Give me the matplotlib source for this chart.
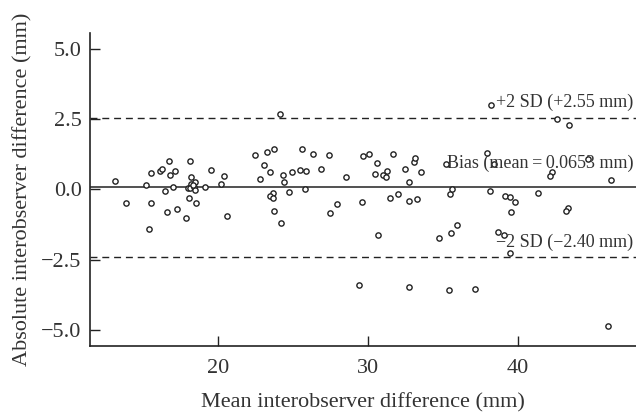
import matplotlib
matplotlib.use("Agg")
import matplotlib.pyplot as plt
import numpy as np

# mean of the two observers (mm) and their difference (mm)
mean_mm = [24.13, 13.13, 13.90, 15.18, 15.42, 15.56, 15.53, 16.13, 16.27, 16.45,
           16.58, 16.75, 16.80, 17.02, 17.15, 17.25, 17.89, 17.98, 18.09, 18.13,
           18.22, 18.18, 18.16, 18.42, 18.49, 18.49, 18.51, 18.31, 19.15, 19.53,
           20.18, 20.40, 20.62, 22.47, 22.78, 23.05, 23.29, 23.47, 23.71, 23.65,
           23.47, 23.65, 23.71, 24.18, 24.31, 24.38, 24.71,
           24.95, 25.45, 25.60, 25.85, 25.78, 26.33, 26.89, 27.40, 27.49, 27.93,
           28.55, 29.58, 29.69, 30.09, 30.60, 30.47, 30.69, 31.02, 31.25, 31.20,
           31.47, 31.69, 32.02, 32.45, 32.75, 32.75, 33.09, 33.13, 33.25, 33.55,
           34.75, 35.18, 35.47, 35.60, 35.51, 35.93,
           38.18, 42.62, 43.38, 37.91, 38.40, 44.65, 42.27, 42.13, 46.20, 38.11,
           39.11, 39.45, 39.82, 39.55, 41.31, 43.33, 43.18, 38.69, 39.05, 39.45,
           29.42, 32.71, 35.40, 37.15, 46.00]
diff_mm = [2.68, 0.30, -0.48, 0.16, -1.41, 0.59, -0.50, 0.65, 0.71, -0.08,
           -0.82, 1.02, 0.50, 0.07, 0.65, -0.69, -1.01, 0.05, -0.31, 1.02,
           0.44, 0.19, 0.04, 0.07, 0.26, -0.04, -0.50, 0.16, 0.08, 0.70,
           0.18, 0.48, -0.94, 1.21, 0.37, 0.85, 1.34, 0.63, 1.42, -0.14,
           -0.24, -0.30, -0.77, -1.20, 0.51, 0.25, -0.10,
           0.60, 0.68, 1.43, 0.64, 0.02, 1.26, 0.73, 1.21, -0.85, -0.52,
           0.44, -0.45, 1.19, 1.26, 0.95, 0.53, -1.62, 0.52, 0.66, 0.44,
           -0.30, 1.26, -0.18, 0.71, 0.25, -0.41, 0.98, 1.10, -0.33, 0.60,
           -1.72, 0.90, -0.17, 0.02, -1.54, -1.27,
           2.99, 2.50, 2.28, 1.28, 0.90, 1.08, 0.62, 0.46, 0.32, -0.06,
           -0.24, -0.28, -0.45, -0.82, -0.12, -0.65, -0.77, -1.51, -1.63, -2.28,
           -3.41, -3.47, -3.58, -3.56, -4.88]

bias = 0.0653
upper_loa = 2.55
lower_loa = -2.40
y_ticks = [-5.0, -2.5, 0.0, 2.5, 5.0]
x_ticks = [20, 30, 40]

plt.rcParams['font.family'] = ['Liberation Serif', 'DejaVu Serif']
plt.rcParams['axes.unicode_minus'] = True

fig = plt.figure(figsize=(6.36, 4.12), dpi=100)
ax = fig.add_axes([0.1415, 0.160, 0.8585, 0.760])

ax.plot(mean_mm, diff_mm, 'o', ms=3.8, mfc='white', mec='#222222', mew=1.0, zorder=3)

ax.axhline(bias, color='#222222', lw=1.1, zorder=2)
ax.axhline(upper_loa, color='#222222', lw=1.0, ls=(0, (5, 3.5)), zorder=2)
ax.axhline(lower_loa, color='#222222', lw=1.0, ls=(0, (5, 3.5)), zorder=2)

ax.text(47.7, upper_loa + 0.22, '+2 SD (+2.55 mm)', ha='right', va='bottom',
        fontsize=13, color='#333333')
ax.text(47.7, bias + 0.85, 'Bias (mean\u2009=\u20090.0653 mm)', ha='right', va='center',
        fontsize=13, color='#333333')
ax.text(47.7, lower_loa + 0.22, '\u22122 SD (\u22122.40 mm)', ha='right', va='bottom',
        fontsize=13, color='#333333')

ax.set_xlim(11.47, 47.87)
ax.set_ylim(-5.58, 5.56)
ax.set_xticks(x_ticks)
ax.set_yticks(y_ticks)
ax.set_yticklabels(['\u22125.0', '\u22122.5', '0.0', '2.5', '5.0'])

for s in ['top', 'right']:
    ax.spines[s].set_visible(False)
for s in ['left', 'bottom']:
    ax.spines[s].set_linewidth(1.2)
    ax.spines[s].set_color('#222222')

ax.tick_params(direction='in', length=7, width=1.0, color='#222222',
               labelsize=16, labelcolor='#333333', pad=6)
ax.tick_params(axis='x', pad=9)

ax.set_xlabel('Mean interobserver difference (mm)', fontsize=16, color='#333333', labelpad=11)
ax.set_ylabel('Absolute interobserver difference (mm)', fontsize=16, color='#333333', labelpad=6)

fig.savefig('out.png', dpi=100)
